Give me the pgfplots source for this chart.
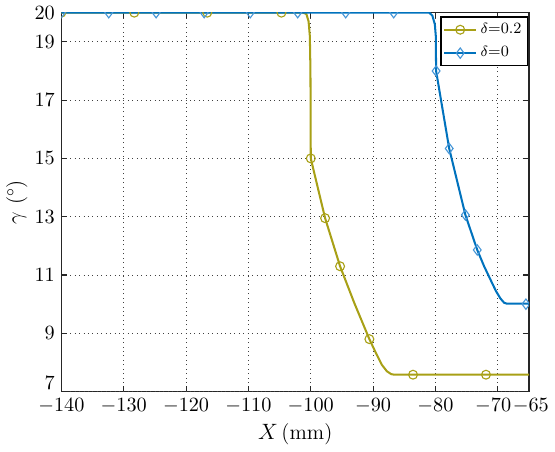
\documentclass[border=0pt]{standalone}
\usepackage{pgfplots}
\pgfplotsset{compat=1.18}
\definecolor{oliveC}{RGB}{168,160,22}
\definecolor{blueC}{RGB}{0,114,189}
\definecolor{blueM}{RGB}{70,150,215}
\begin{document}
\begin{tikzpicture}
\begin{axis}[
  scale only axis, width=253pt, height=205pt,
  xmin=-140, xmax=-65, ymin=7, ymax=20,
  xtick={-140,-130,-120,-110,-100,-90,-80,-70,-65},
  xticklabels={$-140$,$-130$,$-120$,$-110$,$-100$,$-90$,$-80$,$-70$\hspace*{5pt},\hspace*{2pt}$-65$},
  ytick={9,11,13,15,17,19,20},
  extra y ticks={7},
  extra y tick style={yticklabel style={yshift=4.5pt, inner ysep=0pt}},
  ticklabel style={font=\fontsize{11}{13}\selectfont},
  label style={font=\fontsize{11.5}{13}\selectfont},
  grid=major, major grid style={dotted, black!75, line width=0.5pt},
  tick align=inside, major tick length=3pt,
  tick style={black!85, line width=0.6pt},
  axis line style={black!85, line width=0.7pt},
  xlabel={$X\,$(mm)}, ylabel={$\gamma$ ($^\circ$)},
  xlabel style={yshift=1pt},
  ylabel style={yshift=-3pt},
  clip marker paths=true,
  legend style={at={(0.998,0.99)}, anchor=north east, font=\fontsize{8.5}{10}\selectfont, draw=black, line width=0.8pt,
    inner sep=1.2pt, row sep=1.5pt},
  legend cell align=left,
]
\addplot[color=oliveC, line width=1.1pt,
  legend image post style={mark=o, mark size=2.4pt, mark options={solid, fill=none, line width=0.6pt}}]
coordinates {
(-140,20) (-101.2,20) (-100.7,19.95) (-100.35,19.7) (-100.15,19.2) (-100.05,18) (-100,15)
(-97.7,12.95) (-95.3,11.3) (-93,10.03) (-90.6,8.8) (-89.5,8.3) (-88.6,7.92) (-87.8,7.7)
(-87.1,7.6) (-86.6,7.58) (-65,7.58)
};
\addlegendentry{$\delta$=0.2}
\addplot[color=blueC, line width=1.1pt,
  legend image post style={mark=diamond, mark size=2.8pt, mark options={solid, fill=none, line width=0.6pt, draw=blueM}}]
coordinates {
(-140,20) (-81,20) (-80.5,19.9) (-80.1,19.6) (-79.95,19.2) (-79.9,18.0) (-77.8,15.34)
(-75.2,13.06) (-73.3,11.86) (-72.2,11.3) (-71.2,10.85) (-70.3,10.45) (-69.6,10.2)
(-69.0,10.05) (-68.6,10.02) (-65,10.02)
};
\addlegendentry{$\delta$=0}
\addplot[forget plot, only marks, mark=o, mark size=2.4pt, mark options={solid, fill=none, draw=oliveC, line width=0.6pt}]
coordinates {
(-140,20) (-128.3,20) (-116.6,20) (-104.7,20) (-100,15) (-97.7,12.95) (-95.3,11.3)
(-90.6,8.8) (-83.6,7.58) (-71.9,7.58)
};
\addplot[forget plot, only marks, mark=diamond, mark size=2.8pt, mark options={solid, fill=none, draw=blueM, line width=0.6pt}]
coordinates {
(-140,20) (-132.4,20) (-124.8,20) (-117.1,20) (-109.7,20) (-102.1,20) (-94.4,20) (-86.7,20)
(-79.9,18.0) (-77.8,15.34) (-75.2,13.06) (-73.3,11.86) (-65.5,10.0)
};
\end{axis}
\end{tikzpicture}
\end{document}
